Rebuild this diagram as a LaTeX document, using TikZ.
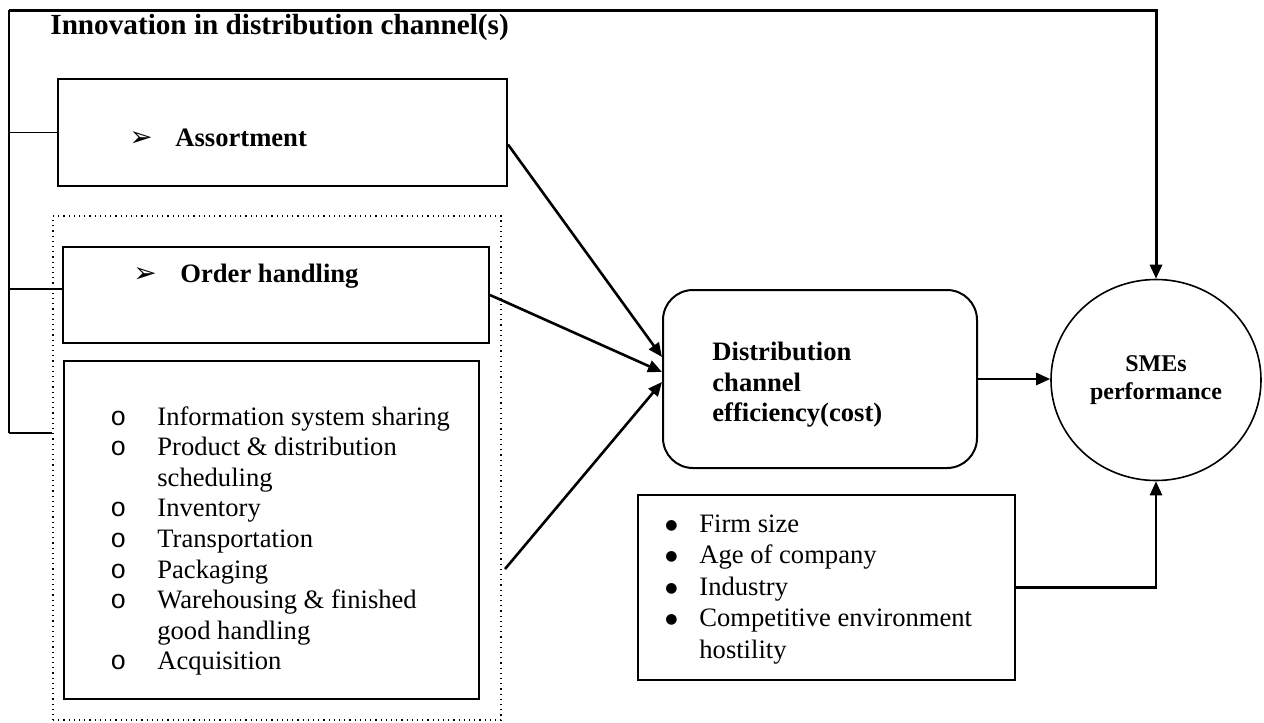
\documentclass[tikz,border=0pt]{standalone}
\usepackage{fontspec}
\setmainfont{Liberation Serif}
\setmonofont{Liberation Mono}
\newfontfamily\symfont{DejaVu Sans}
\newcommand{\basesize}{\fontsize{13.3}{15.3}\selectfont}
\usetikzlibrary{arrows.meta,shapes.geometric}
\tikzset{
    box/.style={draw, line width=1pt, inner sep=0pt},
    conn/.style={line width=1.3pt},
    arrow/.style={conn, -{Triangle[length=7pt,width=6pt]}},
    branch/.style={line width=0.8pt},
    txt/.style={anchor=base west, inner sep=0pt},
    arrowmark/.style={txt, font=\symfont\fontsize{14}{14}\selectfont},
    bold/.style={font=\basesize\bfseries}
}
\begin{document}
\begin{tikzpicture}[x=0.5pt, y=-0.5pt, font=\basesize]
                \useasboundingbox (0,0) rectangle (1264,723);

                \node[txt, font=\bfseries\fontsize{14.6}{16}\selectfont] (title) at (50,34) {Innovation in distribution channel(s)};

                \node[box, minimum width=224.5pt, minimum height=53.5pt] (assort) at (282.5,132.5) {};
                \node[arrowmark] (assortmark) at (129,146) {➢};
                \node[txt, bold] (assortlbl) at (175,146) {Assortment};

                \node[draw, dotted, line width=0.6pt, minimum width=224pt, minimum height=252pt] (orderzone) at (277,468) {};

                \node[box, minimum width=213pt, minimum height=48pt] (order) at (276,295) {};
                \node[arrowmark] (ordermark) at (133,282) {➢};
                \node[txt, bold] (orderlbl) at (180,282) {Order handling};

                \node[box, minimum width=207.5pt, minimum height=169pt] (tasks) at (271.5,530) {};
                \foreach \mk/\item [count=\k] in {o/Information system sharing, o/Product \& distribution, /scheduling, o/Inventory, o/Transportation, o/Packaging, o/Warehousing \& finished, /good handling, o/Acquisition}
                    \node[txt] (task\k) at (110,{425+30.6*(\k-1)}) {\makebox[23.5pt][l]{\texttt{\mk}}\item};

                \node[box, rounded corners=15pt, minimum width=157pt, minimum height=89pt] (dist) at (820,379) {};
                \node[anchor=west, inner sep=0pt, align=left, bold] (distlbl) at (712,385) {Distribution\\channel\\efficiency(cost)};

                \node[draw, ellipse, line width=0.8pt, inner sep=0pt, minimum width=105pt, minimum height=100.5pt, align=center, font=\bfseries\fontsize{12}{14}\selectfont] (perf) at (1156,380) {SMEs\\performance};

                \node[box, minimum width=188.5pt, minimum height=92.5pt] (firm) at (826.5,587.5) {};
                \foreach \item [count=\k] in {Firm size, Age of company, Industry, Competitive environment, hostility}
                    \node[txt] (ctrl\k) at (665,{532+31.5*(\k-1)}) {\makebox[17pt][l]{\ifnum\k<5 \raisebox{1.4pt}{\symfont\fontsize{7}{7}\selectfont ●}\fi}\item};

                \coordinate (topleft) at (9,10);
                \coordinate (botleft) at (9,433);
                \coordinate (listout) at (505,569);

                \draw[conn] (botleft) -- (topleft);
                \draw[arrow, line width=1.5pt] (topleft) -| (perf.north);
                \draw[branch] (assort.west) -- (assort.west -| topleft);
                \draw[branch] ([yshift=3pt]order.west) -- ([yshift=3pt]order.west -| topleft);
                \draw[branch] (botleft) -- (botleft -| orderzone.west);

                \draw[arrow] ([yshift=-6pt]assort.east) -- ([yshift=11pt]dist.west);
                \draw[arrow] (order.east) -- ([yshift=3.5pt]dist.west);
                \draw[arrow] (listout) -- ([yshift=-1.5pt]dist.west);
                \draw[arrow] (dist.east) -- (dist.east -| perf.west);
                \draw[arrow] (firm.east) -| (perf.south);
            \end{tikzpicture}
\end{document}
